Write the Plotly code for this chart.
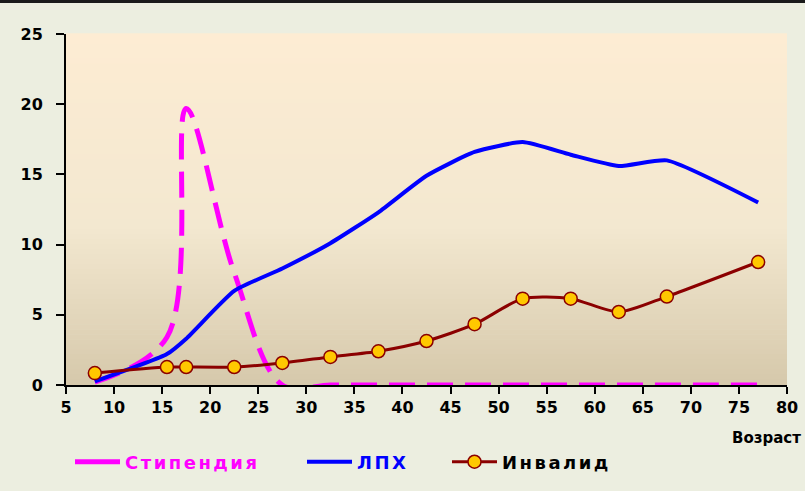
import plotly.graph_objects as go

age = [8, 15.5, 17.5, 22.5, 27.5, 32.5, 37.5, 42.5, 47.5, 52.5, 57.5, 62.5, 67.5, 77]
stipend = [0.2, 3.4, 19.7, 8.0, 0.0, 0, 0, 0, 0, 0, 0, 0, 0, 0]
lph = [0.25, 2.2, 3.3, 6.7, 8.3, 10.1, 12.3, 14.9, 16.6, 17.3, 16.4, 15.6, 16.0, 13.0]
invalid = [0.85, 1.28, 1.28, 1.28, 1.57, 2.0, 2.4, 3.13, 4.33, 6.15, 6.15, 5.2, 6.3, 8.76]
names = ["Стипендия", "ЛПХ", "Инвалид"]
x_ticks = list(range(5, 81, 5))
y_ticks = [0, 5, 10, 15, 20, 25]

FONT = "DejaVu Sans"
W, H = 805, 491
ML, MR, MT, MB = 66, 18, 34, 106
PW, PH = W - ML - MR, H - MT - MB


def spaced(s):
    return '<span style="letter-spacing:2.5px">%s</span>' % s


fig = go.Figure()
# data trace (dashed) + legend-only entry (solid, as in the original legend)
fig.add_trace(go.Scatter(x=age, y=stipend, name=names[0], mode="lines",
                         line=dict(color="#FF00FF", width=5, dash="26px,12px",
                                   shape="spline", smoothing=1.0),
                         showlegend=False))
fig.add_trace(go.Scatter(x=[None], y=[None], name=spaced(names[0]), mode="lines",
                         line=dict(color="#FF00FF", width=5),
                         legend="legend", hoverinfo="skip"))
fig.add_trace(go.Scatter(x=age, y=lph, name=spaced(names[1]), mode="lines",
                         line=dict(color="#0000FF", width=4, shape="spline", smoothing=0.5),
                         legend="legend2"))
fig.add_trace(go.Scatter(x=age, y=invalid, name=spaced(names[2]), mode="lines+markers",
                         line=dict(color="#8B0000", width=3, shape="spline", smoothing=0.7),
                         marker=dict(symbol="circle", size=13, color="#FFC800",
                                     line=dict(color="#8B0000", width=1.5)),
                         legend="legend3"))

# gradient background of plot area (stepped bands)
def lerp(c1, c2, t):
    return tuple(round(a + (b - a) * t) for a, b in zip(c1, c2))

stops = [(0.0, (253, 236, 211)), (0.55, (243, 232, 208)), (1.0, (214, 201, 171))]
n = 70
shapes = []
for i in range(n):
    t = (i + 0.5) / n  # from top
    for j in range(len(stops) - 1):
        if stops[j][0] <= t <= stops[j + 1][0]:
            tt = (t - stops[j][0]) / (stops[j + 1][0] - stops[j][0])
            c = lerp(stops[j][1], stops[j + 1][1], tt)
            break
    y1 = 1 - i / n
    y0 = 1 - (i + 1) / n
    shapes.append(dict(type="rect", xref="paper", yref="paper", x0=0, x1=1,
                       y0=y0, y1=y1 + 0.002, line=dict(width=0),
                       fillcolor="rgb(%d,%d,%d)" % c, layer="below"))
# dark top border of picture
shapes.append(dict(type="line", xref="paper", yref="paper",
                   x0=-ML / PW, x1=1 + MR / PW, y0=1 + (MT - 1.5) / PH, y1=1 + (MT - 1.5) / PH,
                   line=dict(color="#1a1a1a", width=3), layer="above"))

def legend_at(px, color):
    return dict(x=(px - ML) / PW, xanchor="left", y=(MT + PH - 462) / PH, yanchor="middle",
                orientation="h", bgcolor="rgba(0,0,0,0)", borderwidth=0, itemwidth=45,
                font=dict(family=FONT, size=18, color=color, weight="bold"))

fig.update_layout(
    width=W, height=H,
    margin=dict(l=ML, r=MR, t=MT, b=MB, autoexpand=False),
    paper_bgcolor="#ECEEE0",
    plot_bgcolor="rgba(0,0,0,0)",
    shapes=shapes,
    showlegend=True,
    legend=legend_at(70, "#FF00FF"),
    legend2=legend_at(302, "#0000FF"),
    legend3=legend_at(447, "#000000"),
    xaxis=dict(range=[5, 80], tickvals=x_ticks, showgrid=False, zeroline=False,
               showline=True, linecolor="black", linewidth=2,
               ticks="outside", ticklen=7, tickwidth=2, tickcolor="black",
               tickfont=dict(family=FONT, size=16, color="black", weight="bold")),
    yaxis=dict(range=[0, 25], tickvals=y_ticks, showgrid=False, zeroline=False,
               showline=True, linecolor="black", linewidth=2,
               ticks="outside", ticklen=8, tickwidth=2, tickcolor="black",
               ticklabelstandoff=10,
               tickfont=dict(family=FONT, size=16, color="black", weight="bold")),
    annotations=[dict(text="Возраст", xref="paper", yref="paper",
                      x=1 + (MR - 2) / PW, xanchor="right", y=(MT + PH - 438) / PH, yanchor="middle",
                      showarrow=False,
                      font=dict(family=FONT, size=15, color="black", weight="bold"))],
)

fig.write_html("out.html", config={"displayModeBar": False},
               post_script="document.body.style.margin='0';document.body.style.overflow='hidden';")
